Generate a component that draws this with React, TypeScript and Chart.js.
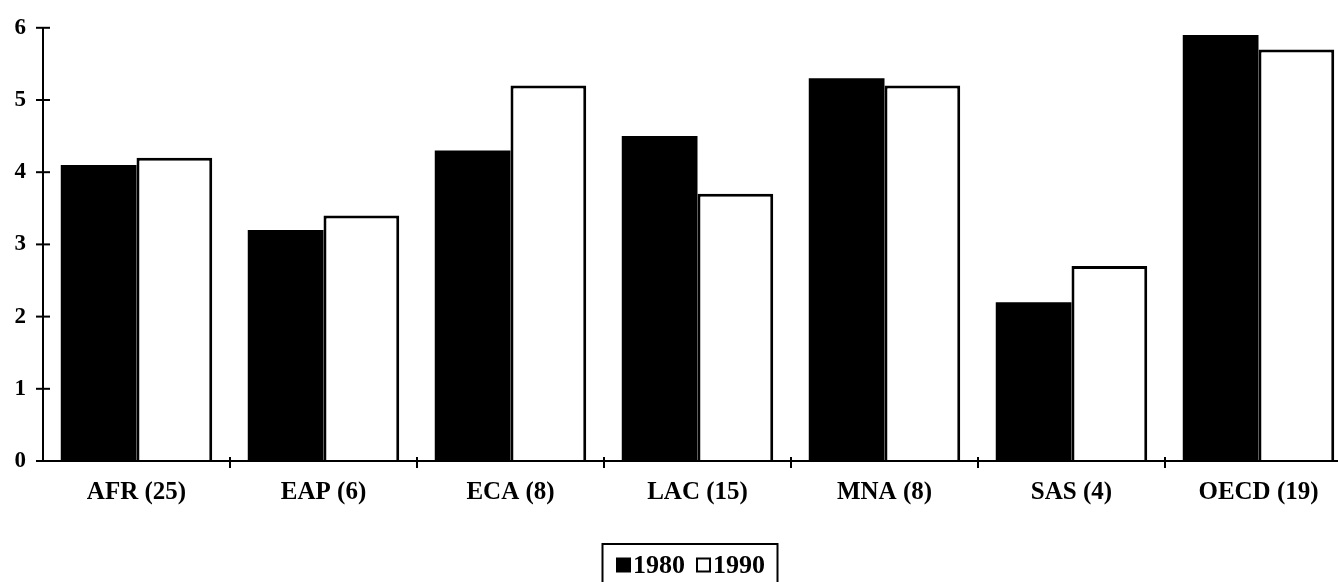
import React, { useEffect, useRef } from 'react';
import { Chart, registerables } from 'chart.js';

Chart.register(...registerables);

const categories = ['AFR (25)', 'EAP (6)', 'ECA (8)', 'LAC (15)', 'MNA (8)', 'SAS (4)', 'OECD (19)'];
const values1980 = [4.1, 3.2, 4.3, 4.5, 5.3, 2.2, 5.9];
const values1990 = [4.2, 3.4, 5.2, 3.7, 5.2, 2.7, 5.7];
const seriesLabels = ['1980', '1990'];
const yTicks = [0, 1, 2, 3, 4, 5, 6];

const FONT = '"Liberation Serif", "Times New Roman", serif';

const decor = {
  id: 'decor',
  afterDraw(chart: any) {
    const ctx = chart.ctx as CanvasRenderingContext2D;
    const { left, right, bottom } = chart.chartArea;
    const ys = chart.scales.y;
    const xs = chart.scales.x;
    ctx.save();
    ctx.strokeStyle = '#000';
    ctx.lineWidth = 2;
    // axes
    ctx.beginPath();
    ctx.moveTo(left, ys.getPixelForValue(yTicks[yTicks.length - 1]));
    ctx.lineTo(left, bottom);
    ctx.lineTo(right, bottom);
    ctx.stroke();
    // y tick marks crossing the axis
    yTicks.forEach((v) => {
      const py = ys.getPixelForValue(v);
      ctx.beginPath();
      ctx.moveTo(left - 7, py);
      ctx.lineTo(left + 7, py);
      ctx.stroke();
    });
    // x tick marks at category boundaries
    for (let i = 1; i <= categories.length; i++) {
      const px = i < categories.length
        ? (xs.getPixelForValue(i - 1) + xs.getPixelForValue(i)) / 2
        : right;
      ctx.beginPath();
      ctx.moveTo(px, bottom - 4);
      ctx.lineTo(px, bottom + 7);
      ctx.stroke();
    }
    // legend
    const ds = chart.data.datasets;
    ctx.font = `bold 26px ${FONT}`;
    ctx.textBaseline = 'middle';
    ctx.textAlign = 'left';
    const marker = 13;
    const padL = 10, padR = 8, gapM = 3, gapItem = 12;
    const widths = ds.map((d: any) => ctx.measureText(d.label).width);
    const total = padL + padR + ds.length * (marker + gapM) + widths.reduce((a: number, b: number) => a + b, 0) + gapItem * (ds.length - 1);
    const boxW = Math.max(total, 175);
    const bx = chart.width / 2 - boxW / 2;
    const by = bottom + 83;
    const bh = 42;
    ctx.lineWidth = 2;
    ctx.strokeRect(bx, by, boxW, bh);
    const cy = by + 21;
    let cx = bx + padL + (boxW - total) / 2;
    ds.forEach((d: any, i: number) => {
      ctx.fillStyle = d.backgroundColor;
      ctx.fillRect(cx, cy - marker / 2, marker, marker);
      ctx.strokeStyle = '#000';
      ctx.lineWidth = 2;
      ctx.strokeRect(cx, cy - marker / 2, marker, marker);
      cx += marker + gapM;
      ctx.fillStyle = '#000';
      ctx.fillText(d.label, cx, cy + 1);
      cx += widths[i] + gapItem;
    });
    ctx.restore();
  },
};

export default function App() {
  const ref = useRef<HTMLCanvasElement>(null);
  useEffect(() => {
    if (!ref.current) return;
    const chart = new Chart(ref.current, {
      type: 'bar',
      data: {
        labels: categories,
        datasets: [
          {
            label: seriesLabels[0],
            data: values1980,
            backgroundColor: '#000',
            borderColor: '#000',
            borderWidth: 0,
          },
          {
            label: seriesLabels[1],
            data: values1990,
            backgroundColor: '#fff',
            borderColor: '#000',
            borderWidth: 3,
          },
        ],
      },
      options: {
        responsive: false,
        animation: false,
        datasets: { bar: { categoryPercentage: 0.81, barPercentage: 1 } },
        layout: { padding: { top: 9, right: 20, bottom: 80, left: 0 } },
        plugins: { legend: { display: false }, tooltip: { enabled: false } },
        scales: {
          x: {
            grid: { display: false, drawTicks: false },
            border: { display: false },
            ticks: {
              color: '#000',
              padding: 17,
              maxRotation: 0,
              font: { family: FONT, size: 25, weight: 'bold' },
            },
            afterFit: (s: any) => { s.height = 57; },
          },
          y: {
            min: 0,
            max: 6,
            grid: { display: false, drawTicks: false },
            border: { display: false },
            ticks: {
              stepSize: 1,
              color: '#000',
              padding: 17,
              font: { family: FONT, size: 23, weight: 'bold' },
            },
            afterFit: (s: any) => { s.width = 35; },
          },
        },
      },
      plugins: [decor],
    });
    return () => chart.destroy();
  }, []);
  return (
    <div style={{ position: 'fixed', left: 8, top: 8, width: 1330, height: 574, overflow: 'hidden', background: '#fff' }}>
      <canvas ref={ref} width={1364} height={601} style={{ display: 'block', marginTop: -11 }} />
    </div>
  );
}
